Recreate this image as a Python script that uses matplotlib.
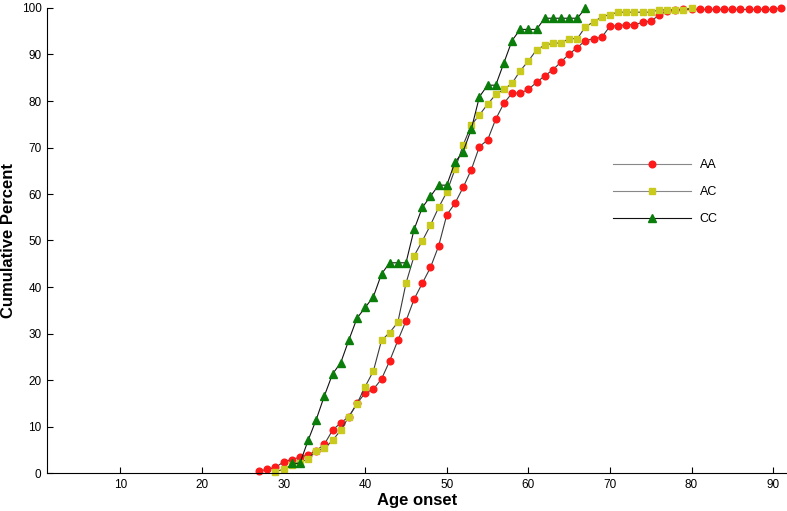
import numpy as np
import matplotlib.pyplot as plt

# ages (integer years) and cumulative percent per genotype
age_aa = list(range(27, 92))
pct_aa = [0.4, 0.8, 1.2, 2.4, 2.9, 3.4, 3.9, 4.8, 6.2, 9.2,
          10.8, 12.1, 15.0, 17.2, 18.0, 20.2, 24.1, 28.5, 32.7, 37.4,
          40.8, 44.2, 48.8, 55.5, 58.0, 61.4, 65.2, 70.2, 71.6, 76.1,
          79.5, 81.7, 81.7, 82.5, 84.0, 85.4, 86.7, 88.4, 90.1, 91.5,
          93.0, 93.4, 93.7, 96.1, 96.2, 96.4, 96.4, 96.9, 97.2, 98.4,
          99.4, 99.6, 99.7, 99.7, 99.7, 99.7, 99.7, 99.7, 99.7, 99.7,
          99.7, 99.7, 99.7, 99.7, 100.0]

age_ac = list(range(29, 81))
pct_ac = [0.3, 0.8, 1.7, 2.2, 3.1, 4.8, 5.3, 7.0, 9.2, 12.1,
          14.9, 18.6, 21.9, 28.5, 30.2, 32.4, 40.8, 46.7, 49.9, 53.3,
          57.1, 60.4, 65.3, 70.5, 74.8, 77.0, 79.3, 81.4, 82.5, 83.8,
          86.5, 88.6, 91.0, 92.0, 92.4, 92.5, 93.4, 93.4, 96.0, 97.0,
          98.1, 98.6, 99.1, 99.1, 99.1, 99.1, 99.1, 99.6, 99.6, 99.6,
          99.6, 100.0]

age_cc = list(range(31, 68))
pct_cc = [2.1, 2.1, 7.0, 11.5, 16.6, 21.3, 23.7, 28.6, 33.3, 35.6,
          37.9, 42.8, 45.2, 45.2, 45.2, 52.4, 57.1, 59.5, 61.9, 61.9,
          66.8, 69.1, 73.9, 80.9, 83.4, 83.4, 88.2, 93.0, 95.4, 95.4,
          95.4, 97.8, 97.8, 97.8, 97.8, 97.8, 100.0]

plt.rcParams['font.family'] = ['Liberation Sans', 'DejaVu Sans']

fig = plt.figure(figsize=(7.87, 5.11), dpi=100)
ax = fig.add_axes([47 / 787, 38 / 511, 740 / 787, 465 / 511])

line_col = '#3a3a3a'
ax.plot(age_aa, pct_aa, color=line_col, lw=0.8, marker='o', ms=4.8,
        mfc='#ff1a1a', mec='#ff1a1a', label='AA', clip_on=False)
ax.plot(age_ac, pct_ac, color=line_col, lw=0.8, marker='s', ms=4.6,
        mfc='#c9c91e', mec='#c9c91e', label='AC', clip_on=False)
ax.plot(age_cc, pct_cc, color='#111111', lw=0.8, marker='^', ms=5.8,
        mfc='#0a7d0a', mec='#0a7d0a', label='CC', clip_on=False)

ax.set_xlim(1, 91.7)
ax.set_ylim(0, 100)
ax.set_xticks(range(10, 91, 10))
ax.set_yticks(range(0, 101, 10))
ax.tick_params(direction='in', length=4, width=0.8, labelsize=8.5, pad=4)
for side in ['top', 'right']:
    ax.spines[side].set_visible(False)
for side in ['left', 'bottom']:
    ax.spines[side].set_linewidth(0.8)

ax.set_xlabel('Age onset', fontsize=12, fontweight='bold', labelpad=2)
ax.set_ylabel('Cumulative Percent', fontsize=12, fontweight='bold', labelpad=4)

leg = ax.legend(loc='upper left', bbox_to_anchor=(0.757, 0.688), frameon=False,
                fontsize=9, handlelength=6.2, handletextpad=0.7,
                labelspacing=1.2, borderpad=0, numpoints=1)
for h, c in zip(leg.get_lines(), ['#888888', '#888888', '#111111']):
    h.set_color(c)

fig.savefig('out.png', dpi=100)
